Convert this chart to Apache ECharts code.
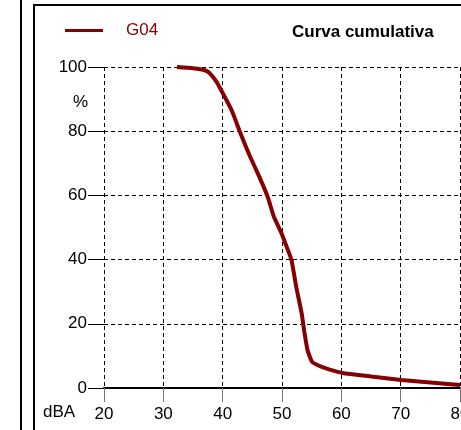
<!DOCTYPE html>
<html>
<head>
<meta charset="utf-8">
<script src="https://cdn.jsdelivr.net/npm/echarts@6/dist/echarts.min.js"></script>
<style>
  html, body { margin: 0; padding: 0; background: #fff; }
  #chart { width: 461px; height: 430px; }
</style>
</head>
<body>
<div id="chart"></div>
<script>
// curva cumulativa G04
var dBA = [32.3, 35.0, 37.0, 37.8, 39.0, 40.0, 41.5, 42.9, 44.5, 46.2, 47.6, 48.6, 49.9, 50.8, 51.6, 52.4, 53.3, 53.8, 54.3, 55.1, 56.8, 58.5, 60.2, 65.0, 70.1, 75.0, 80.0];
var perc = [100, 99.6, 99.0, 98.1, 95.3, 91.9, 86.6, 79.8, 72.6, 65.7, 59.5, 53.5, 48.3, 43.9, 39.9, 31.5, 23.4, 17.1, 11.8, 8.1, 6.5, 5.5, 4.7, 3.6, 2.5, 1.7, 0.9];
var xTicks = [20, 30, 40, 50, 60, 70, 80];
var yTicks = [0, 20, 40, 60, 80, 100];

var font = 'Liberation Sans, Arial, sans-serif';
var rosso = '#850000';

var myChart = echarts.init(document.getElementById('chart'));

var punti = dBA.map(function (x, i) { return [x, perc[i]]; });

var option = {
  animation: false,
  title: {
    text: 'Curva cumulativa',
    left: 287,
    top: 19,
    textStyle: { fontFamily: font, fontSize: 17, fontWeight: 'bold', color: '#000' }
  },
  legend: {
    left: 60,
    top: 17,
    icon: 'rect',
    itemWidth: 38,
    itemHeight: 3,
    itemGap: 0,
    data: ['G04'],
    textStyle: { fontFamily: font, fontSize: 17, color: rosso, padding: [0, 0, 0, 18] }
  },
  grid: { left: 104, right: 1, top: 67, bottom: 42, outerBoundsMode: 'none' },
  xAxis: {
    type: 'value',
    min: xTicks[0],
    max: xTicks[xTicks.length - 1],
    interval: 10,
    axisLine: { show: true, lineStyle: { color: '#000', width: 2 } },
    axisTick: { show: true, length: 14, lineStyle: { color: '#777' } },
    axisLabel: { fontFamily: font, fontSize: 17, color: '#000', margin: 18 },
    splitLine: { show: true, lineStyle: { color: '#000', type: [4, 3], width: 1 } }
  },
  yAxis: {
    type: 'value',
    min: yTicks[0],
    max: yTicks[yTicks.length - 1],
    interval: 20,
    name: '%',
    nameLocation: 'end',
    nameGap: -44,
    nameTextStyle: { fontFamily: font, fontSize: 17, color: '#000', align: 'right', padding: [0, 16, 0, 0] },
    axisLine: { show: false },
    axisTick: { show: true, length: 16, lineStyle: { color: '#000' } },
    axisLabel: { fontFamily: font, fontSize: 17, color: '#000', margin: 17 },
    splitLine: { show: true, lineStyle: { color: '#000', type: [4, 3], width: 1 } }
  },
  graphic: [
    { type: 'line', shape: { x1: 21, y1: 0, x2: 21, y2: 430 }, style: { stroke: '#000', lineWidth: 2 } },
    { type: 'line', shape: { x1: 34, y1: 5, x2: 34, y2: 430 }, style: { stroke: '#000', lineWidth: 2 } },
    { type: 'line', shape: { x1: 33, y1: 5, x2: 461, y2: 5 }, style: { stroke: '#000', lineWidth: 2 } },
    { type: 'text', left: 43, top: 404, style: { text: 'dBA', font: '17px ' + font, fill: '#000' } }
  ],
  series: [{
    name: 'G04',
    type: 'line',
    data: punti,
    showSymbol: false,
    smooth: 0.15,
    itemStyle: { color: rosso },
    lineStyle: { color: rosso, width: 4 }
  }]
};

myChart.setOption(option);
</script>
</body>
</html>
